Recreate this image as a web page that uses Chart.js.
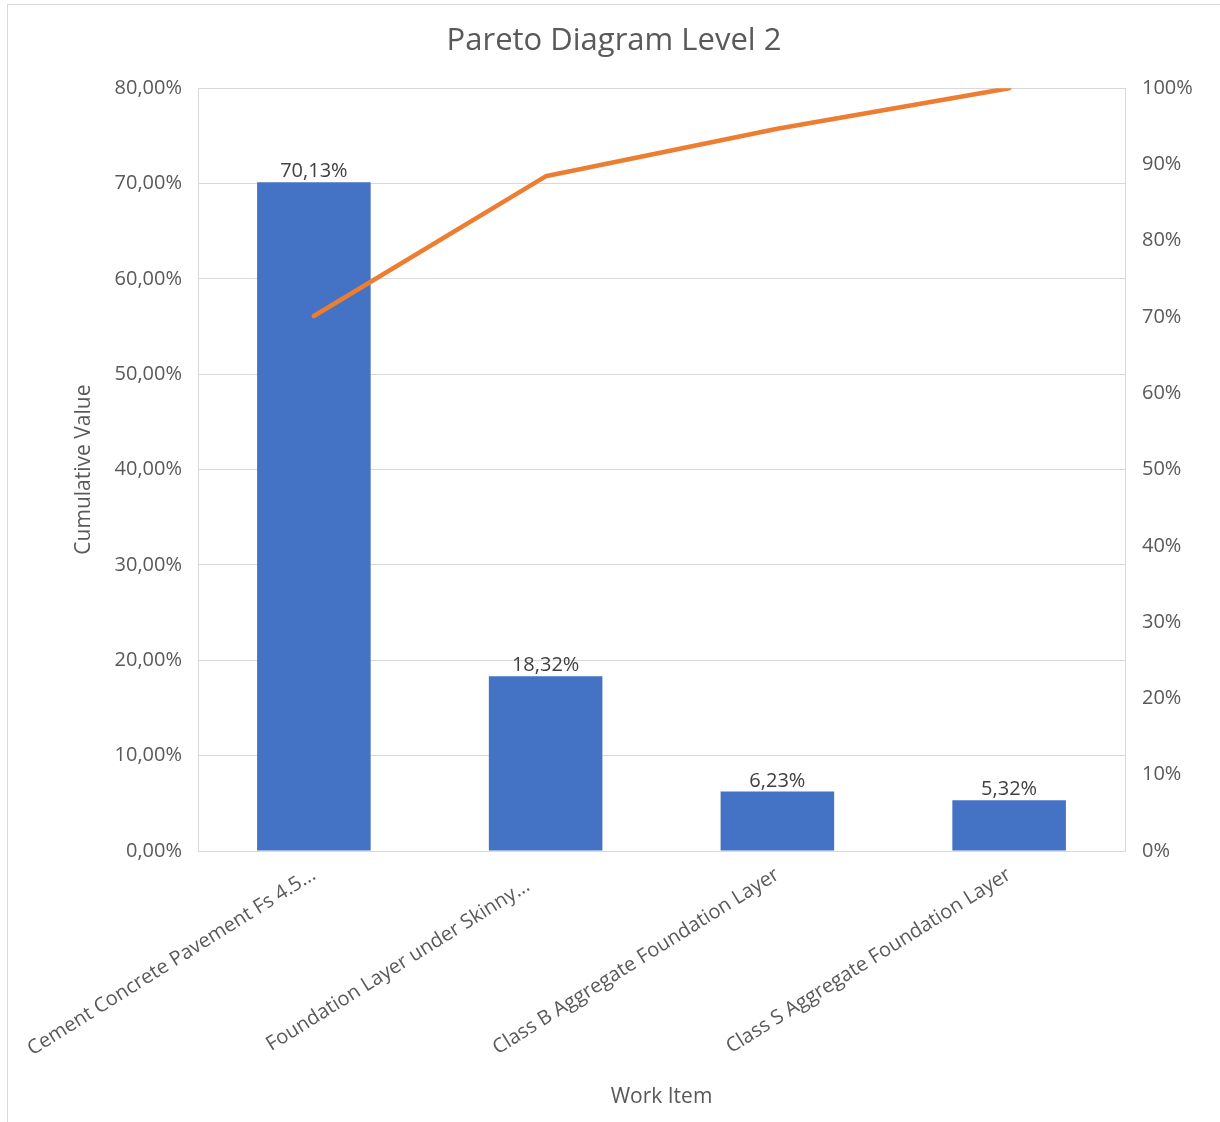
<!DOCTYPE html>
<html>
<head>
<meta charset="utf-8">
<script src="https://cdn.jsdelivr.net/npm/chart.js@4"></script>
<style>
html,body{margin:0;padding:0;background:#fff;}
#wrap{position:absolute;left:0;top:0;width:1220px;height:1122px;}
</style>
</head>
<body>
<div id="wrap"><canvas id="c" width="1220" height="1122"></canvas></div>
<script>
const categories = [
  "Cement Concrete Pavement Fs 4.5...",
  "Foundation Layer under Skinny...",
  "Class B Aggregate Foundation Layer",
  "Class S Aggregate Foundation Layer"
];
const shareValues = [70.13, 18.32, 6.23, 5.32];
const cumulativeValues = [70.13, 88.45, 94.68, 100];
const leftTicks = [0, 10, 20, 30, 40, 50, 60, 70, 80];
const rightTicks = [0, 10, 20, 30, 40, 50, 60, 70, 80, 90, 100];

const FONT = "'Open Sans', sans-serif";
const TXT = '#595959';
const GRID = '#d9d9d9';

const fmtComma = v => v.toFixed(2).replace('.', ',') + '%';

const outerBorder = {
  id: 'outerBorder',
  beforeDraw(chart) {
    const ctx = chart.ctx;
    ctx.save();
    ctx.fillStyle = '#fff';
    ctx.fillRect(0, 0, chart.width, chart.height);
    ctx.strokeStyle = GRID;
    ctx.lineWidth = 1;
    ctx.strokeRect(7.5, 4.5, 1400, 1400);
    ctx.restore();
  }
};

const barLabels = {
  id: 'barLabels',
  afterDatasetsDraw(chart) {
    const ctx = chart.ctx;
    const meta = chart.getDatasetMeta(0);
    ctx.save();
    ctx.font = "20px " + FONT;
    ctx.fillStyle = '#404040';
    ctx.textAlign = 'center';
    ctx.textBaseline = 'alphabetic';
    meta.data.forEach((el, i) => {
      ctx.fillText(fmtComma(shareValues[i]), el.x, el.y - 5);
    });
    ctx.restore();
  }
};

new Chart(document.getElementById('c'), {
  data: {
    labels: categories,
    datasets: [
      {
        type: 'bar',
        data: shareValues,
        yAxisID: 'y',
        backgroundColor: '#4472C4',
        barPercentage: 0.49,
        categoryPercentage: 1,
        order: 1
      },
      {
        type: 'line',
        data: cumulativeValues,
        yAxisID: 'y1',
        borderColor: '#ED7D31',
        borderWidth: 4.5,
        borderCapStyle: 'round',
        borderJoinStyle: 'round',
        pointRadius: 0,
        tension: 0,
        order: 0
      }
    ]
  },
  options: {
    responsive: false,
    animation: false,
    layout: { padding: { left: 8, right: 0, top: 0, bottom: 0 } },
    plugins: {
      legend: { display: false },
      tooltip: { enabled: false },
      title: {
        display: true,
        text: 'Pareto Diagram Level 2',
        color: TXT,
        font: { family: FONT, size: 31, weight: 'normal' },
        padding: { top: 23, bottom: 28 }
      }
    },
    scales: {
      x: {
        grid: { display: false },
        border: { display: false },
        ticks: {
          color: TXT,
          font: { family: FONT, size: 20 },
          minRotation: 32,
          maxRotation: 32,
          autoSkip: false,
          padding: 4,
          callback: (v, i) => categories[i] + (i === 1 ? '    ' : '')
        },
        title: {
          display: true,
          text: 'Work Item',
          color: TXT,
          font: { family: FONT, size: 21 },
          padding: { top: 0, bottom: 12 }
        },
        afterFit(s) { s.height = 271; }
      },
      y: {
        position: 'left',
        min: 0, max: 80,
        afterBuildTicks(s) { s.ticks = leftTicks.map(v => ({ value: v })); },
        grid: { color: GRID, lineWidth: 1, drawTicks: false },
        border: { display: true, color: GRID },
        ticks: {
          color: TXT,
          font: { family: FONT, size: 20 },
          padding: 16,
          callback: v => fmtComma(v)
        },
        title: {
          display: true,
          text: 'Cumulative Value',
          color: TXT,
          font: { family: FONT, size: 21 },
          padding: { top: 63, bottom: 0 }
        },
        afterFit(s) { s.width = 190; }
      },
      y1: {
        position: 'right',
        min: 0, max: 100,
        afterBuildTicks(s) { s.ticks = rightTicks.map(v => ({ value: v })); },
        grid: { drawOnChartArea: false, drawTicks: false },
        border: { display: true, color: GRID },
        ticks: {
          color: TXT,
          font: { family: FONT, size: 20 },
          padding: 17,
          callback: v => v + '%'
        },
        afterFit(s) { s.width = 95; }
      }
    }
  },
  plugins: [outerBorder, barLabels]
});
</script>
</body>
</html>
